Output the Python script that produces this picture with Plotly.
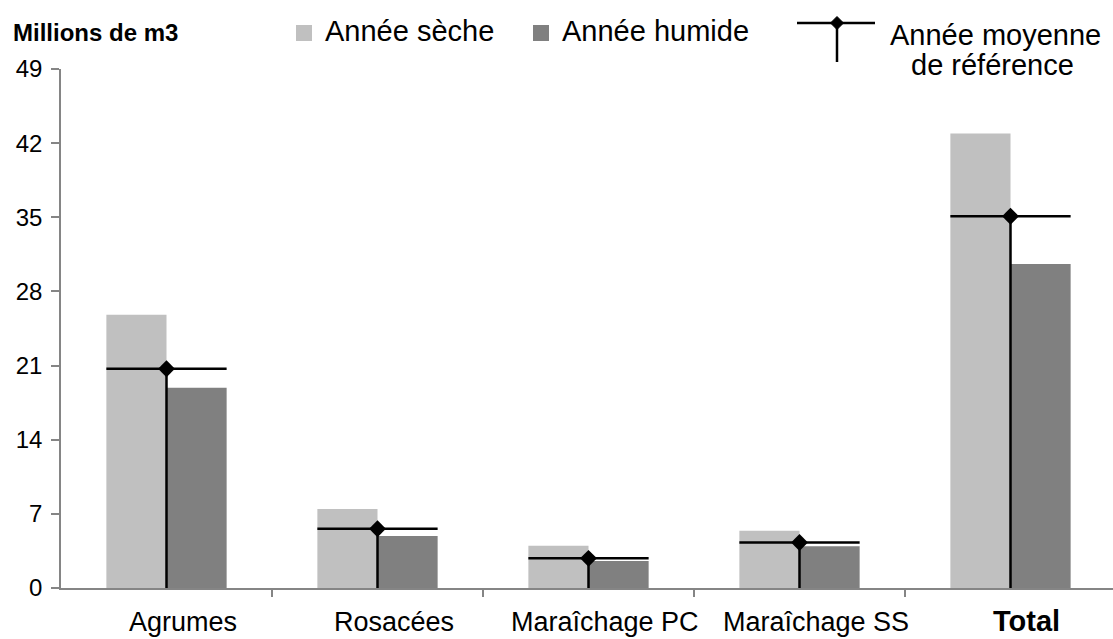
import plotly.graph_objects as go

# Irrigation water demand by crop group (millions of m3)
categories = ["Agrumes", "Rosacées", "Maraîchage PC", "Maraîchage SS", "Total"]
annee_seche = [25.8, 7.45, 4.0, 5.4, 42.9]
annee_humide = [18.9, 4.9, 2.55, 3.95, 30.6]
annee_moyenne = [20.7, 5.6, 2.8, 4.3, 35.1]
y_ticks = [0, 7, 14, 21, 28, 35, 42, 49]

legend_labels = ["Année sèche", "Année humide", "Année moyenne", "de référence"]
y_title = "Millions de m3"

W, H = 1113, 639
L, R, T, B = 61, 0, 69, 51
PW, PH = W - L - R, H - T - B

LIGHT = "#C0C0C0"
DARK = "#808080"
AXIS = "#858585"
FONT = "Liberation Sans, Arial, sans-serif"

xpos = list(range(len(categories)))
bar_w = 0.285


def px_x(px):
    return (px - L) / PW


def px_y(py):
    return (H - B - py) / PH


fig = go.Figure()
fig.add_trace(go.Bar(x=xpos, y=annee_seche, marker=dict(color=LIGHT, line=dict(width=0)),
                     showlegend=False, name=legend_labels[0]))
fig.add_trace(go.Bar(x=xpos, y=annee_humide, marker=dict(color=DARK, line=dict(width=0)),
                     showlegend=False, name=legend_labels[1]))
fig.add_trace(go.Scatter(
    x=xpos, y=annee_moyenne, mode="markers", showlegend=False, cliponaxis=False,
    name=legend_labels[2],
    marker=dict(symbol="diamond", size=13, color="black"),
    error_x=dict(type="constant", value=bar_w, thickness=2.5, width=0, color="black"),
    error_y=dict(type="data", symmetric=False, array=[0] * len(annee_moyenne),
                 arrayminus=annee_moyenne, thickness=2.5, width=0, color="black"),
))

annotations = []
for i, c in enumerate(categories):
    if c == "Total":
        txt, size, ys = "<b>Total</b>", 29, -33
    else:
        txt, size, ys = c, 27, -34
    annotations.append(dict(x=i, y=0, xref="x", yref="paper", text=txt, showarrow=False,
                            xanchor="center", yanchor="middle", xshift=16, yshift=ys,
                            borderpad=0,
                            font=dict(family=FONT, size=size, color="black")))

# axis title
annotations.append(dict(x=px_x(11), y=px_y(32), xref="paper", yref="paper",
                        text="<b>" + y_title + "</b>", showarrow=False,
                        xanchor="left", yanchor="middle",
                        font=dict(family=FONT, size=24, color="black")))
# legend texts
annotations.append(dict(x=px_x(323), y=px_y(31), xref="paper", yref="paper",
                        text=legend_labels[0], showarrow=False, xanchor="left", yanchor="middle",
                        font=dict(family=FONT, size=29, color="black")))
annotations.append(dict(x=px_x(560), y=px_y(31), xref="paper", yref="paper",
                        text=legend_labels[1], showarrow=False, xanchor="left", yanchor="middle",
                        font=dict(family=FONT, size=29, color="black")))
annotations.append(dict(x=px_x(995), y=px_y(35), xref="paper", yref="paper",
                        text=legend_labels[2], showarrow=False, xanchor="center", yanchor="middle",
                        font=dict(family=FONT, size=29, color="black")))
annotations.append(dict(x=px_x(992), y=px_y(65), xref="paper", yref="paper",
                        text=legend_labels[3], showarrow=False, xanchor="center", yanchor="middle",
                        font=dict(family=FONT, size=29, color="black")))

shapes = []
for x0, col in [(296, LIGHT), (533, DARK)]:
    shapes.append(dict(type="rect", xref="paper", yref="paper",
                       x0=px_x(x0), x1=px_x(x0 + 16), y0=px_y(41), y1=px_y(25),
                       fillcolor=col, line=dict(width=0)))
shapes.append(dict(type="line", xref="paper", yref="paper",
                   x0=px_x(797), x1=px_x(875), y0=px_y(23), y1=px_y(23),
                   line=dict(color="black", width=2.5)))
shapes.append(dict(type="line", xref="paper", yref="paper",
                   x0=px_x(837), x1=px_x(837), y0=px_y(23), y1=px_y(62),
                   line=dict(color="black", width=2.5)))
cx, cy, d = 837, 23, 6.5
path = "M {} {} L {} {} L {} {} L {} {} Z".format(
    px_x(cx - d), px_y(cy), px_x(cx), px_y(cy - d), px_x(cx + d), px_y(cy), px_x(cx), px_y(cy + d))
shapes.append(dict(type="path", xref="paper", yref="paper", path=path,
                   fillcolor="black", line=dict(color="black", width=1)))

fig.update_layout(
    width=W, height=H,
    margin=dict(l=L, r=R, t=T, b=B, pad=0, autoexpand=False),
    paper_bgcolor="white", plot_bgcolor="white",
    barmode="group", bargap=0.43, bargroupgap=0,
    font=dict(family=FONT, color="black"),
    annotations=annotations, shapes=shapes,
    xaxis=dict(range=[-0.5, -0.5 + PW / 211.0], showgrid=False, zeroline=False,
               showline=True, linecolor=AXIS, linewidth=1.5,
               tickmode="array", tickvals=[0.5, 1.5, 2.5, 3.5], ticks="outside",
               ticklen=7, tickwidth=1.5, tickcolor=AXIS, showticklabels=False),
    yaxis=dict(range=[0, 49], showgrid=False, zeroline=False,
               showline=True, linecolor=AXIS, linewidth=1.5,
               tickmode="array", tickvals=y_ticks, ticks="outside",
               ticklen=8, tickwidth=1.5, tickcolor=AXIS,
               tickfont=dict(family=FONT, size=24, color="black"),
               ticklabelstandoff=4),
)

fig.write_html("out.html")
